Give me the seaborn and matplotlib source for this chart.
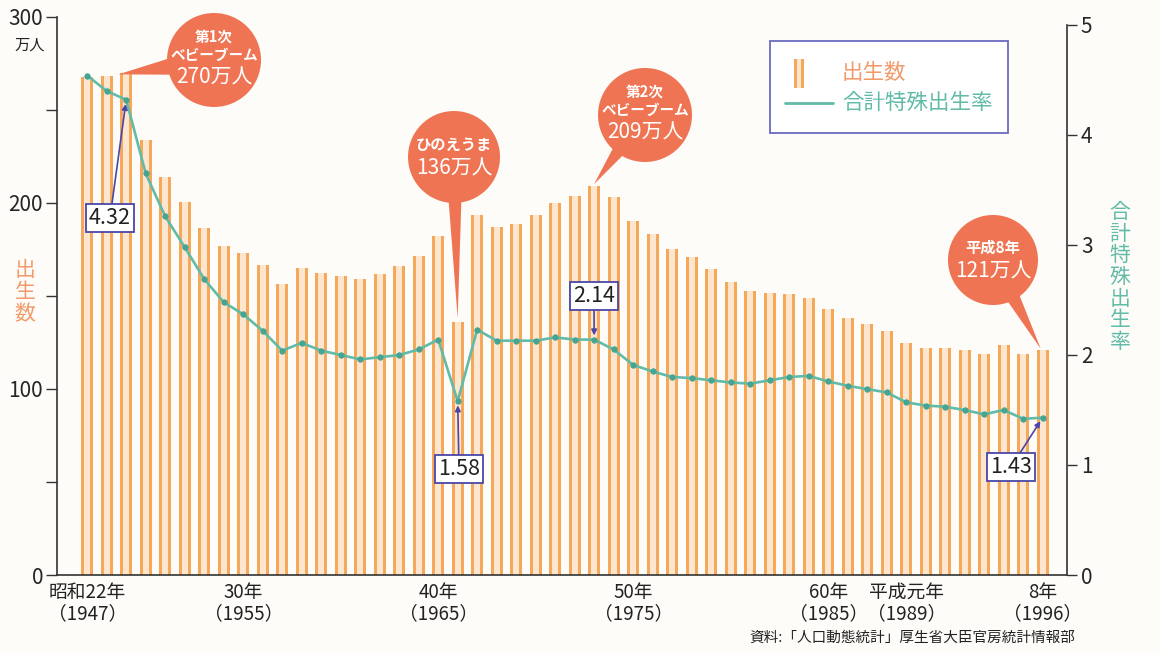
import numpy as np
import pandas as pd
import matplotlib
matplotlib.use("Agg")
import matplotlib.pyplot as plt
import seaborn as sns
from matplotlib.patches import Ellipse, Polygon, Rectangle
from matplotlib.lines import Line2D

# ---------------- data ----------------
years = list(range(1947, 1997))
births = [268.0, 268.2, 269.7, 233.8, 213.8, 200.5, 186.8, 177.0, 173.1, 166.5,
          156.7, 165.3, 162.6, 160.6, 158.9, 161.9, 166.0, 171.7, 182.4, 136.1,
          193.6, 187.2, 188.9, 193.4, 200.1, 203.9, 209.2, 203.0, 190.1, 183.3,
          175.5, 170.9, 164.3, 157.7, 152.9, 151.5, 150.9, 149.0, 143.2, 138.3,
          134.7, 131.4, 124.7, 122.2, 122.3, 120.9, 118.8, 123.8, 118.7, 120.7]
tfr = [4.54, 4.40, 4.32, 3.65, 3.26, 2.98, 2.69, 2.48, 2.37, 2.22,
       2.04, 2.11, 2.04, 2.00, 1.96, 1.98, 2.00, 2.05, 2.14, 1.58,
       2.23, 2.13, 2.13, 2.13, 2.16, 2.14, 2.14, 2.05, 1.91, 1.85,
       1.80, 1.79, 1.77, 1.75, 1.74, 1.77, 1.80, 1.81, 1.76, 1.72,
       1.69, 1.66, 1.57, 1.54, 1.53, 1.50, 1.46, 1.50, 1.42, 1.43]
xtick_years = [1947, 1955, 1965, 1975, 1985, 1989, 1996]
xtick_labels = ["昭和22年\n（1947）", "30年\n（1955）", "40年\n（1965）", "50年\n（1975）",
                "60年\n（1985）", "平成元年\n（1989）", "8年\n（1996）"]
left_ticks = [0, 100, 200, 300]
right_ticks = [0, 1, 2, 3, 4, 5]
callouts_tfr = [(1949, "4.32"), (1966, "1.58"), (1973, "2.14"), (1996, "1.43")]

df = pd.DataFrame({"year": years, "births": births, "tfr": tfr})

# ---------------- style ----------------
sns.set_theme(style="white")
plt.rcParams["font.family"] = ["Noto Sans CJK JP", "DejaVu Sans"]

ORANGE = "#f6a85a"
PALE = "#fde6cf"
TEAL = "#62bba8"
TEAL_D = "#45a592"
BUBBLE = "#ef7453"
BLUE = "#4a47a8"
BG = "#fdfcf8"

W, H = 1160, 653
fig = plt.figure(figsize=(W / 100, H / 100), dpi=100, facecolor=BG)
ax = fig.add_axes([57 / W, 1 - 575 / H, (1067 - 57) / W, (575 - 17) / H])
ax.set_facecolor(BG)

# bars: orange outer + pale inner gives the twin-stripe look
sns.barplot(data=df, x="year", y="births", native_scale=True, width=0.62,
            color=ORANGE, saturation=1, linewidth=0, ax=ax)
sns.barplot(data=df, x="year", y="births", native_scale=True, width=0.30,
            color=PALE, saturation=1, linewidth=0, ax=ax)

ax.set_xlim(1945.45, 1997.25)
ax.set_ylim(0, 300)
ax.set_xlabel("")
ax.set_ylabel("")
for s in ["top", "right"]:
    ax.spines[s].set_visible(False)
for s in ["left", "bottom"]:
    ax.spines[s].set_color("#333333")
    ax.spines[s].set_linewidth(1.2)
ax.set_yticks(left_ticks)
ax.set_yticks([50, 150, 250], minor=True)
ax.tick_params(axis="y", which="both", direction="out", length=8, width=1,
               color="#333333", labelsize=15, left=True, pad=2)
ax.set_xticks(xtick_years)
ax.set_xticklabels(xtick_labels, fontsize=13.5, linespacing=1.0, color="#222222")
ax.tick_params(axis="x", length=0, pad=5)

# right axis for TFR
ax2 = ax.twinx()
sns.lineplot(data=df, x="year", y="tfr", color=TEAL, linewidth=1.9,
             marker="o", markersize=3.8, markerfacecolor=TEAL_D,
             markeredgecolor=TEAL_D, ax=ax2)
ax2.set_ylim(0, 5 * 558 / 550)
ax2.set_yticks(right_ticks)
ax2.set_ylabel("")
ax2.set_xlabel("")
for s in ["top", "left", "bottom"]:
    ax2.spines[s].set_visible(False)
ax2.spines["right"].set_color("#333333")
ax2.spines["right"].set_linewidth(1.2)
ax2.spines["right"].set_bounds(0, 5)
ax2.tick_params(axis="y", direction="out", length=7, width=1, color="#333333",
                labelsize=15, right=True, pad=3)

# ---------------- helpers ----------------
def px(x, y):
    return (x / W, 1 - y / H)

def data_px(axis, x, y):
    dx, dy = axis.transData.transform((x, y))
    return dx, H - dy

def bubble(cx, cy, r, tip, lines, tail_w=9):
    tx, ty = tip
    d = np.array([tx - cx, ty - cy], dtype=float)
    d /= np.linalg.norm(d)
    p = np.array([-d[1], d[0]])
    b1 = np.array([cx, cy]) + d * (r * 0.7) + p * tail_w
    b2 = np.array([cx, cy]) + d * (r * 0.7) - p * tail_w
    fig.patches.append(Polygon([px(*b1), px(tx, ty), px(*b2)], closed=True,
                               transform=fig.transFigure, facecolor=BUBBLE,
                               edgecolor="none", zorder=5))
    fig.patches.append(Ellipse(px(cx, cy), 2 * r / W, 2 * r / H,
                               transform=fig.transFigure, facecolor=BUBBLE,
                               edgecolor="none", zorder=6))
    for (text, dy, size, weight) in lines:
        fig.text(*px(cx, cy + dy), text, ha="center", va="center", color="white",
                 fontsize=size, fontweight=weight, zorder=7)

# bubble tips at bar tops
i49, i66, i73, i96 = years.index(1949), years.index(1966), years.index(1973), years.index(1996)
t1 = data_px(ax, 1949 - 0.25, births[i49])
t2 = data_px(ax, 1966, births[i66] + 2)
t3 = data_px(ax, 1973, births[i73] + 1)
t4 = data_px(ax, 1996 - 0.1, births[i96] + 1)

bubble(214, 60, 47, (t1[0] - 3, t1[1] + 1),
       [("第1次", -23, 10.5, "bold"), ("ベビーブーム", -5, 10.5, "bold"),
        (f"{births[i49]:.0f}万人", 18, 15, "normal")], tail_w=10)
bubble(454, 157, 46, t2,
       [("ひのえうま", -12, 11, "bold"), (f"{births[i66]:.0f}万人", 12, 15, "normal")], tail_w=7)
bubble(645, 115, 47, t3,
       [("第2次", -23, 10.5, "bold"), ("ベビーブーム", -5, 10.5, "bold"),
        (f"{births[i73]:.0f}万人", 18, 15, "normal")], tail_w=8)
bubble(993, 260, 45, t4,
       [("平成8年", -12, 11, "bold"), (f"{births[i96]:.0f}万人", 12, 15, "normal")], tail_w=8)

# TFR value callouts
box_pos = {1949: (110, 218), 1966: (459, 469), 1973: (594, 296), 1996: (1011, 467)}
for yr, label in callouts_tfr:
    bx, by = box_pos[yr]
    ax2.annotate(label, xy=(yr, tfr[years.index(yr)]), xycoords="data",
                 xytext=(bx, H - by), textcoords="figure pixels",
                 ha="center", va="center", fontsize=15.5, color="#222222",
                 bbox=dict(boxstyle="square,pad=0.15", facecolor="white",
                           edgecolor=BLUE, linewidth=1.3),
                 arrowprops=dict(arrowstyle="-|>", color=BLUE, lw=1.2,
                                 mutation_scale=8, shrinkA=0, shrinkB=3),
                 zorder=8)

# legend box
fig.patches.append(Rectangle(px(770, 133), (1008 - 770) / W, (133 - 41) / H,
                             transform=fig.transFigure, facecolor="white",
                             edgecolor="#6a6ac0", linewidth=1.3, zorder=5))
for x0, w, c in [(794, 10, ORANGE), (797, 4, PALE)]:
    fig.patches.append(Rectangle(px(x0, 88), w / W, 29 / H, transform=fig.transFigure,
                                 facecolor=c, edgecolor="none", zorder=6))
fig.text(*px(842, 73), "出生数", ha="left", va="center", fontsize=15.5,
         color="#f29a6a", zorder=7)
fig.lines.append(Line2D([785 / W, 833 / W], [1 - 103 / H, 1 - 103 / H],
                        transform=fig.transFigure, color=TEAL, lw=2, zorder=6))
fig.text(*px(842, 103), "合計特殊出生率", ha="left", va="center", fontsize=15.5,
         color=TEAL, zorder=7)

# axis titles (vertical stacked)
fig.text(*px(30, 45), "万人", ha="center", va="center", fontsize=11, color="#222222")
fig.text(*px(25, 292), "\n".join("出生数"), ha="center", va="center", fontsize=15,
         color="#f29a6a", linespacing=1.0)
fig.text(*px(1120, 277), "\n".join("合計特殊出生率"), ha="center", va="center",
         fontsize=15, color=TEAL, linespacing=0.98)

# source
fig.text(*px(1075, 638), "資料:「人口動態統計」厚生省大臣官房統計情報部", ha="right",
         va="center", fontsize=10.5, color="#222222")

fig.savefig("out.png", dpi=100, facecolor=BG)
